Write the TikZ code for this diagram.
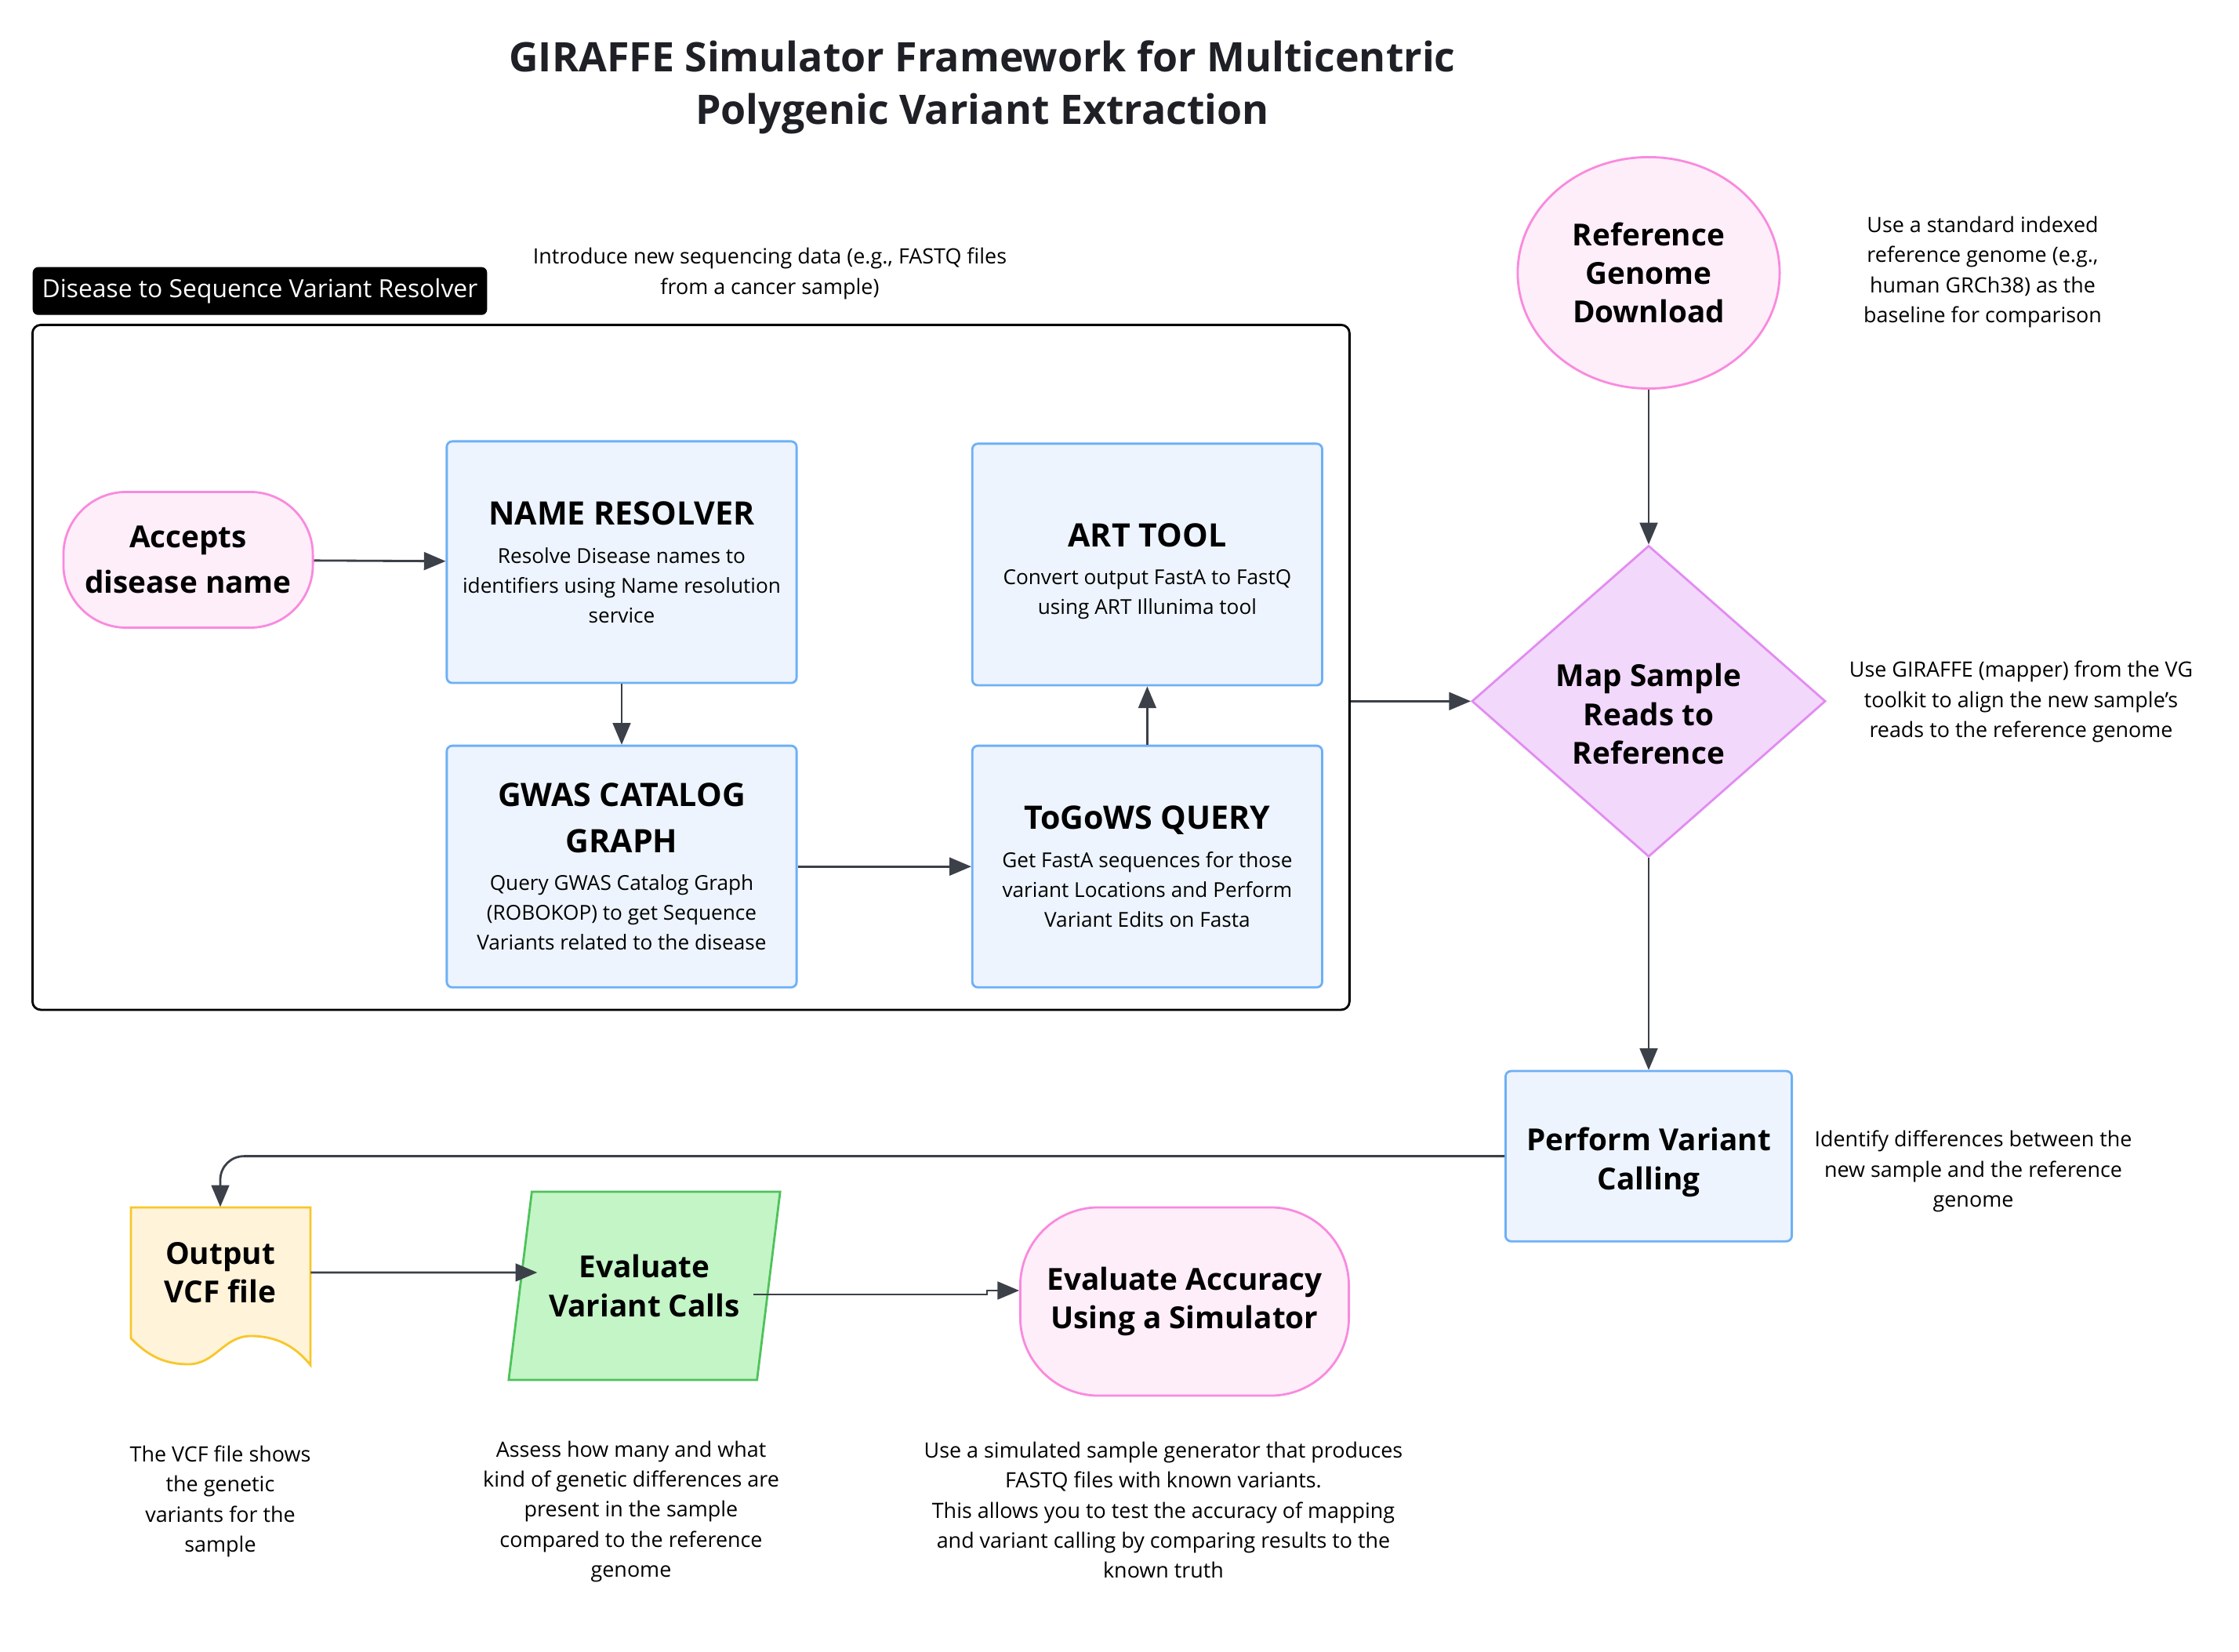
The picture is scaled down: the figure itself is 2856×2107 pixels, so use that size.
\documentclass[tikz,border=0pt]{standalone}
\usepackage{fontspec}
\setmainfont{Open Sans}
\usetikzlibrary{shapes.geometric, arrows}
\definecolor{procfill}{HTML}{EDF4FE}
\definecolor{procline}{HTML}{6DB0F6}
\definecolor{pinkfill}{HTML}{FEEEF9}
\definecolor{pinkline}{HTML}{F98ADE}
\definecolor{diafill}{HTML}{F2D8FB}
\definecolor{dialine}{HTML}{E28CF1}
\definecolor{greenfill}{HTML}{C3F5C7}
\definecolor{greenline}{HTML}{4EC25A}
\definecolor{docfill}{HTML}{FFF3D9}
\definecolor{docline}{HTML}{F7C72A}
\definecolor{arrowgray}{HTML}{3C4048}
\definecolor{titlegray}{HTML}{1E2026}
\newcommand{\maintitlefont}{\fontsize{14.75}{19}\selectfont\bfseries}
\newcommand{\boxheadfont}{\fontsize{11.7}{16.5}\selectfont\bfseries}
\newcommand{\descfont}{\fontsize{7.45}{10.8}\selectfont}
\newcommand{\shapefont}{\fontsize{11}{14}\selectfont\bfseries}
\newcommand{\notefont}{\fontsize{7.65}{10.9}\selectfont}
\tikzstyle{process} = [rectangle, rounded corners=2pt, minimum width=4.46cm, minimum height=3.08cm, text centered, align=center, draw=procline, fill=procfill, line width=0.8pt, font=\descfont]
\tikzstyle{terminal} = [rectangle, rounded corners=0.8cm, text centered, align=center, draw=pinkline, fill=pinkfill, line width=0.8pt, font=\shapefont]
\tikzstyle{refcircle} = [ellipse, minimum width=3.34cm, minimum height=2.95cm, inner sep=0pt, text centered, align=center, draw=pinkline, fill=pinkfill, line width=0.8pt, font=\shapefont]
\tikzstyle{decision} = [diamond, minimum width=4.51cm, minimum height=3.88cm, inner sep=0pt, text centered, align=center, draw=dialine, fill=diafill, line width=0.8pt, font=\shapefont]
\tikzstyle{iobox} = [trapezium, trapezium left angle=75, trapezium right angle=105, trapezium stretches=true, minimum width=3.47cm, minimum height=2.4cm, text centered, align=center, draw=greenline, fill=greenfill, line width=0.8pt, font=\shapefont]
\tikzstyle{docbox} = [draw=none, minimum width=2.29cm, minimum height=1.66cm, text centered, align=center, font=\shapefont]
\tikzstyle{annot} = [draw=none, text centered, align=center, font=\notefont]
\tikzstyle{groupframe} = [draw=black, rounded corners=3pt, line width=0.8pt, minimum width=16.79cm, minimum height=8.73cm, anchor=north west]
\tikzstyle{grouplabel} = [fill=black, text=white, rounded corners=2pt, anchor=north west, minimum height=0.61cm, inner xsep=0.12cm, font=\fontsize{9.05}{10}\selectfont]
\tikzstyle{arrow} = [thick,->,>=triangle 45,draw=arrowgray]

\begin{document}
\begin{tikzpicture}[x=0.01cm, y=-0.01cm]
		\path[use as bounding box, fill=white] (0,0) rectangle (2856,2107);

		\node (title) [text=titlegray, align=center, font=\maintitlefont] at (1253,111) {GIRAFFE Simulator Framework for Multicentric\\Polygenic Variant Extraction};

		% resolver group
		\node (group) [groupframe] at (40,413) {};
		\node (grplabel) [grouplabel] at (41,340) {Disease to Sequence Variant Resolver};
		\node (intronote) [annot] at (982,349) {Introduce new sequencing data (e.g., FASTQ files\\from a cancer sample)};

		\node (accepts) [terminal, minimum width=3.18cm, minimum height=1.73cm, font=\fontsize{11}{16.5}\selectfont\bfseries] at (240,714) {Accepts\\disease name};
		\node (resolver) [process] at (793,717) {{\boxheadfont NAME RESOLVER}\\[3pt]Resolve Disease names to\\identifiers using Name resolution\\service};
		\node (gwas) [process, below of=resolver, node distance=3.88cm] {{\boxheadfont GWAS CATALOG}\\[6pt]{\boxheadfont GRAPH}\\[3pt]Query GWAS Catalog Graph\\(ROBOKOP) to get Sequence\\Variants related to the disease};
		\node (togows) [process, right of=gwas, node distance=6.70cm] {{\boxheadfont ToGoWS QUERY}\\[3pt]Get FastA sequences for those\\variant Locations and Perform\\Variant Edits on Fasta};
		\node (art) [process, above of=togows, node distance=3.85cm] {\rule{0pt}{0.47cm}{\boxheadfont ART TOOL}\\[3pt]Convert output FastA to FastQ\\using ART Illunima tool};

		% main pipeline
		\node (refgen) [refcircle] at (2103,348) {Reference\\Genome\\Download};
		\node (refnote) [annot] at (2529,347) {Use a standard indexed\\reference genome (e.g.,\\human GRCh38) as the\\baseline for comparison};
		\node (mapreads) [decision, below of=refgen, node distance=5.46cm] {\rule{0pt}{0.62cm}Map Sample\\Reads to\\Reference};
		\node (mapnote) [annot] at (2578,895) {Use GIRAFFE (mapper) from the VG\\toolkit to align the new sample’s\\reads to the reference genome};
		\node (perform) [process, below of=mapreads, node distance=5.80cm, minimum width=3.65cm, minimum height=2.17cm, font=\shapefont] {\rule{0pt}{0.45cm}Perform Variant\\Calling};
		\node (performnote) [annot] at (2517,1494) {Identify differences between the\\new sample and the reference\\genome};

		% evaluation row
		\draw [draw=docline, fill=docfill, line width=0.8pt] (167,1540) -- (396,1540) -- (396,1741) .. controls (375,1715) and (350,1704) .. (320,1704) .. controls (285,1704) and (275,1740) .. (240,1740) .. controls (205,1740) and (185,1725) .. (167,1707) -- cycle;
		\node (vcf) [docbox] at (281,1623) {Output\\VCF file};
		\node (evalcalls) [iobox] at (822,1640) {Evaluate\\Variant Calls};
		\node (evalacc) [terminal, minimum width=4.19cm, minimum height=2.40cm, rounded corners=1.0cm] at (1511,1660) {Evaluate Accuracy\\Using a Simulator};
		\node (vcfnote) [annot] at (281,1915) {The VCF file shows\\the genetic\\variants for the\\sample};
		\node (callsnote) [annot] at (805,1928) {Assess how many and what\\kind of genetic differences are\\present in the sample\\compared to the reference\\genome};
		\node (accnote) [annot] at (1484,1926) {Use a simulated sample generator that produces\\FASTQ files with known variants.\\ This allows you to test the accuracy of mapping\\and variant calling by comparing results to the\\known truth};

		\draw [arrow] (accepts) -- (resolver);
		\draw [arrow] (resolver) -- (gwas);
		\draw [arrow] (gwas) -- (togows);
		\draw [arrow] (togows) -- (art);
		\draw [arrow] (mapreads.west -| group.east) -- (mapreads.west);
		\draw [arrow] (refgen) -- (mapreads);
		\draw [arrow] (mapreads) -- (perform);
		\draw [arrow, rounded corners=0.3cm] (perform.west) -| (vcf.north);
		\draw [arrow] (vcf.east) -- ([xshift=0.23cm,yshift=0.17cm]evalcalls.west);
		\draw [arrow] ([xshift=-0.21cm,yshift=-0.11cm]evalcalls.east) -- ++(2.98cm,0) |- ([yshift=0.14cm]evalacc.west);

		\end{tikzpicture}
\end{document}
